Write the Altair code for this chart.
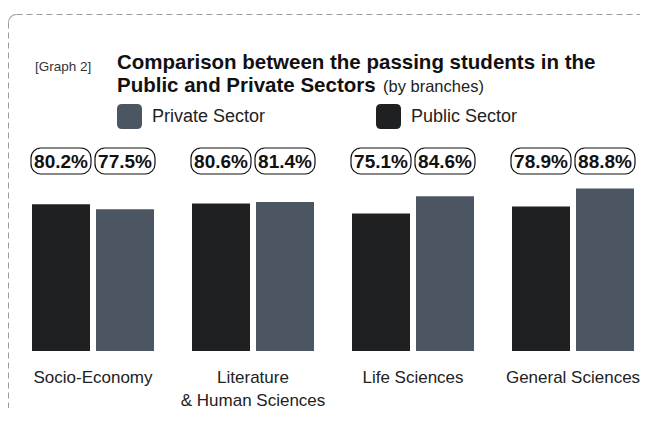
import altair as alt
import pandas as pd

# ---- data ----
branches = ["Socio-Economy", "Literature\n& Human Sciences", "Life Sciences", "General Sciences"]
sectors = ["Public Sector", "Private Sector"]
public_pct = [80.2, 80.6, 75.1, 78.9]
private_pct = [77.5, 81.4, 84.6, 88.8]
legend_order = ["Private Sector", "Public Sector"]
colors = ["#4b5662", "#1f2022"]

rows = []
for b, pu, pr in zip(branches, public_pct, private_pct):
    rows.append({"branch": b, "sector": "Public Sector", "value": pu})
    rows.append({"branch": b, "sector": "Private Sector", "value": pr})
df = pd.DataFrame(rows)

FONT = "Liberation Sans, Arial, Helvetica, sans-serif"
ROUNDSQ = "M-0.6,-1H0.6Q1,-1,1,-0.6V0.6Q1,1,0.6,1H-0.6Q-1,1,-1,0.6V-0.6Q-1,-1,-0.6,-1Z"
BORDER = "#9b9b9b"

x = alt.X(
    "branch:N", sort=branches,
    scale=alt.Scale(paddingInner=0.2375, paddingOuter=0),
    axis=alt.Axis(title=None, labelAngle=0, ticks=False, domain=False, labelPadding=18,
                  labelFont=FONT, labelFontSize=17, labelColor="#222", labelLineHeight=23,
                  labelExpr="split(datum.label, '\\n')", labelLimit=0),
)
xo = alt.XOffset("sector:N", sort=sectors, scale=alt.Scale(paddingInner=0.09375, paddingOuter=0))

base = alt.Chart(df)

bars = base.mark_bar().encode(
    x=x, xOffset=xo,
    y=alt.Y("value:Q", scale=alt.Scale(domain=[0, 100], nice=False, zero=True), axis=None),
    color=alt.Color(
        "sector:N",
        scale=alt.Scale(domain=legend_order, range=colors),
        legend=alt.Legend(title=None, orient="none", legendX=85, legendY=-64, direction="horizontal",
                          symbolType=ROUNDSQ, symbolSize=625, symbolStrokeWidth=0, symbolOpacity=1,
                          labelFont=FONT, labelFontSize=18, labelColor="#222", labelOffset=10,
                          columnPadding=110, labelLimit=0),
    ),
)

boxes = base.mark_bar(width=60, cornerRadius=10, fill="white", stroke="#111", strokeWidth=1.2).encode(
    x=x, xOffset=xo, y=alt.value(-20), y2=alt.value(6)
)

labels = base.transform_calculate(lbl="format(datum.value, '.1f') + '%'").mark_text(
    font=FONT, fontWeight="bold", fontSize=19, color="#111", baseline="alphabetic", align="center"
).encode(x=x, xOffset=xo, text="lbl:N", y=alt.value(0))

one = pd.DataFrame({"k": [0]})


def txt(s, xv, yv, **kw):
    return alt.Chart(one).mark_text(text=s, align="left", baseline="alphabetic", **kw).encode(
        x=alt.value(xv), y=alt.value(yv)
    )


# dashed frame: top edge, left edge and a rounded top-left corner
top_edge = alt.Chart(one).mark_rule(stroke=BORDER, strokeWidth=1, strokeDash=[6, 4]).encode(
    x=alt.value(-15.5), x2=alt.value(1000), y=alt.value(-153.5)
)
left_edge = alt.Chart(one).mark_rule(stroke=BORDER, strokeWidth=1, strokeDash=[6, 4]).encode(
    x=alt.value(-23.5), y=alt.value(-145.5), y2=alt.value(1000)
)
corner = alt.Chart(one).mark_arc(fill=BORDER).encode(
    x=alt.value(-15.5), y=alt.value(-145.5),
    theta=alt.value(4.7124), theta2=alt.value(6.2832),
    radius=alt.value(8.5), radius2=alt.value(7.5),
)

t0 = txt("[Graph 2]", 3, -97, font=FONT, fontSize=13.5, color="#333")
t1 = txt("Comparison between the passing students in the", 85, -99, font=FONT, fontSize=20.5,
         fontWeight="bold", color="#111")
t2 = txt("Public and Private Sectors", 85, -76.5, font=FONT, fontSize=20.5, fontWeight="bold", color="#111")
t3 = txt("(by branches)", 351, -76.5, font=FONT, fontSize=16.5, color="#222")

chart = alt.layer(top_edge, left_edge, corner, bars, boxes, labels, t0, t1, t2, t3).properties(
    width=602, height=183,
    padding={"left": 24, "top": 160, "right": 6, "bottom": 57},
    autosize=alt.AutoSizeParams(type="none"),
).configure_view(strokeWidth=0)

chart.save("out.html", embed_options={"renderer": "svg", "actions": False})
